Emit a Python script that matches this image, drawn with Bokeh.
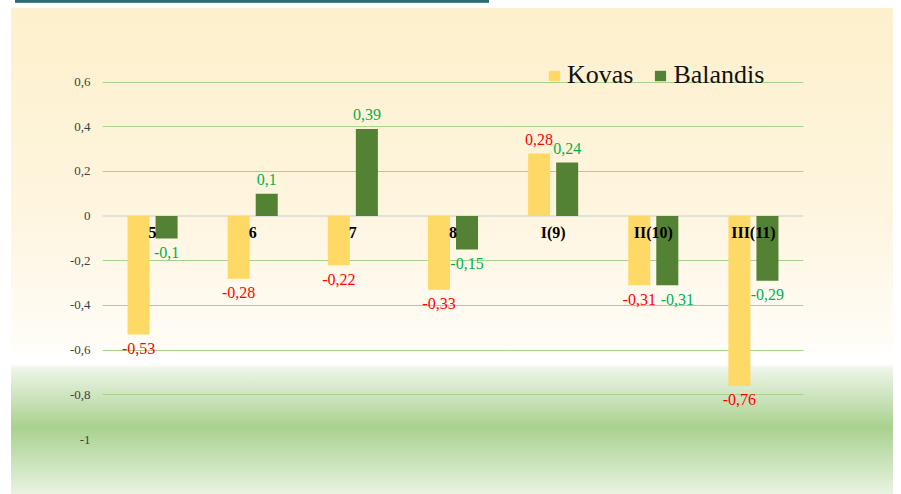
from bokeh.plotting import figure
from bokeh.models import (ColumnDataSource, FactorRange, Range1d, FixedTicker,
                          Span, Legend, LegendItem)
from bokeh.transform import dodge
from bokeh.core.properties import value
from bokeh.embed import file_html
from bokeh.resources import INLINE

# ---- data ----
categories = ["5", "6", "7", "8", "I(9)", "II(10)", "III(11)"]
series_names = ["Kovas", "Balandis"]
kovas = [-0.53, -0.28, -0.22, -0.33, 0.28, -0.31, -0.76]
balandis = [-0.1, 0.1, 0.39, -0.15, 0.24, -0.31, -0.29]
y_ticks = [-1, -0.8, -0.6, -0.4, -0.2, 0, 0.2, 0.4, 0.6]
y_tick_labels = ["-1", "-0,8", "-0,6", "-0,4", "-0,2", "0", "0,2", "0,4", "0,6"]

# small horizontal nudges of data labels (style only, pixels)
balandis_label_nudge = [0, 0, 0, 0, 0, 10, 0]


def fmt(v):
    return f"{v:g}".replace(".", ",")


src = ColumnDataSource(dict(
    cat=categories,
    kovas=kovas,
    balandis=balandis,
    k_lab=[fmt(v) for v in kovas],
    b_lab=[fmt(v) for v in balandis],
    k_off=[-14 if v > 0 else 14 for v in kovas],
    b_off=[-14 if v > 0 else 14 for v in balandis],
    b_xoff=balandis_label_nudge,
))

p = figure(
    x_range=FactorRange(*categories, range_padding=0),
    y_range=Range1d(-1.0, 0.75),
    width=893, height=494,
    output_backend="svg", toolbar_location=None,
    min_border_left=102, min_border_right=90,
    min_border_top=48, min_border_bottom=55,
)
p.border_fill_color = None
p.background_fill_color = None
p.outline_line_color = None

p.styles = {
    "background-image": (
        "linear-gradient(to bottom, #2F6B74 0px, #2F6B74 2px, #6E9BA2 3px), "
        "linear-gradient(to bottom, #FDF0CC 0px, #FEF5DF 200px, "
        "#FFFCF5 330px, #FFFFFF 350px, #FFFFFF 356px, #EEF5E9 360px, "
        "#A9D18E 419px, #E9F3E2 486px)"),
    "background-size": "474px 3px, 882px 486px",
    "background-position": "15px 0px, 11px 8px",
    "background-repeat": "no-repeat, no-repeat",
}

# grid
p.xgrid.visible = False
p.ygrid.ticker = FixedTicker(ticks=[t for t in y_ticks if t != 0])
p.ygrid.grid_line_color = "#A9D18E"
p.ygrid.grid_line_width = 1
p.add_layout(Span(location=0, dimension="width", line_color="#D9D9D9",
                  line_width=1.5, level="underlay"))

# y axis
p.yaxis.ticker = FixedTicker(ticks=y_ticks)
p.yaxis.major_label_overrides = {float(t): l for t, l in zip(y_ticks, y_tick_labels)}
p.yaxis.axis_line_color = None
p.yaxis.major_tick_line_color = None
p.yaxis.minor_tick_line_color = None
p.yaxis.major_tick_out = 0
p.yaxis.major_label_standoff = 12
p.yaxis.major_label_text_font = "Liberation Serif"
p.yaxis.major_label_text_font_size = "13px"
p.yaxis.major_label_text_color = "#404040"

# x axis (drawn at zero)
p.xaxis.fixed_location = 0
p.xaxis.axis_line_color = None
p.xaxis.major_tick_line_color = None
p.xaxis.minor_tick_line_color = None
p.xaxis.major_tick_out = 0
p.xaxis.major_label_standoff = 8
p.xaxis.major_label_text_font = "Liberation Serif"
p.xaxis.major_label_text_font_size = "16px"
p.xaxis.major_label_text_font_style = "bold"
p.xaxis.major_label_text_color = "#000000"

# bars
r1 = p.vbar(x=dodge("cat", -0.14, range=p.x_range), top="kovas", width=0.22,
            source=src, fill_color="#FFD966", line_color=None)
r2 = p.vbar(x=dodge("cat", 0.14, range=p.x_range), top="balandis", width=0.22,
            source=src, fill_color="#548235", line_color=None)

# data labels
p.text(x=dodge("cat", -0.14, range=p.x_range), y="kovas", text="k_lab",
       y_offset="k_off", text_align="center", text_baseline="middle",
       text_font=value("Liberation Serif"), text_font_size="16px",
       text_color="#FF0000", source=src)
p.text(x=dodge("cat", 0.14, range=p.x_range), y="balandis", text="b_lab",
       y_offset="b_off", x_offset="b_xoff", text_align="center",
       text_baseline="middle", text_font=value("Liberation Serif"),
       text_font_size="16px", text_color="#00B050", source=src)

# legend
legend = Legend(
    items=[LegendItem(label=series_names[0], renderers=[r1]),
           LegendItem(label=series_names[1], renderers=[r2])],
    location=(445, 349), orientation="horizontal",
    label_text_font="Liberation Serif", label_text_font_size="26px",
    label_text_color="#111111", glyph_width=14, glyph_height=13,
    label_standoff=6, spacing=20, padding=0, margin=0,
    background_fill_alpha=0, border_line_color=None,
)
p.add_layout(legend, "center")

open("out.html", "w").write(file_html(p, INLINE))
